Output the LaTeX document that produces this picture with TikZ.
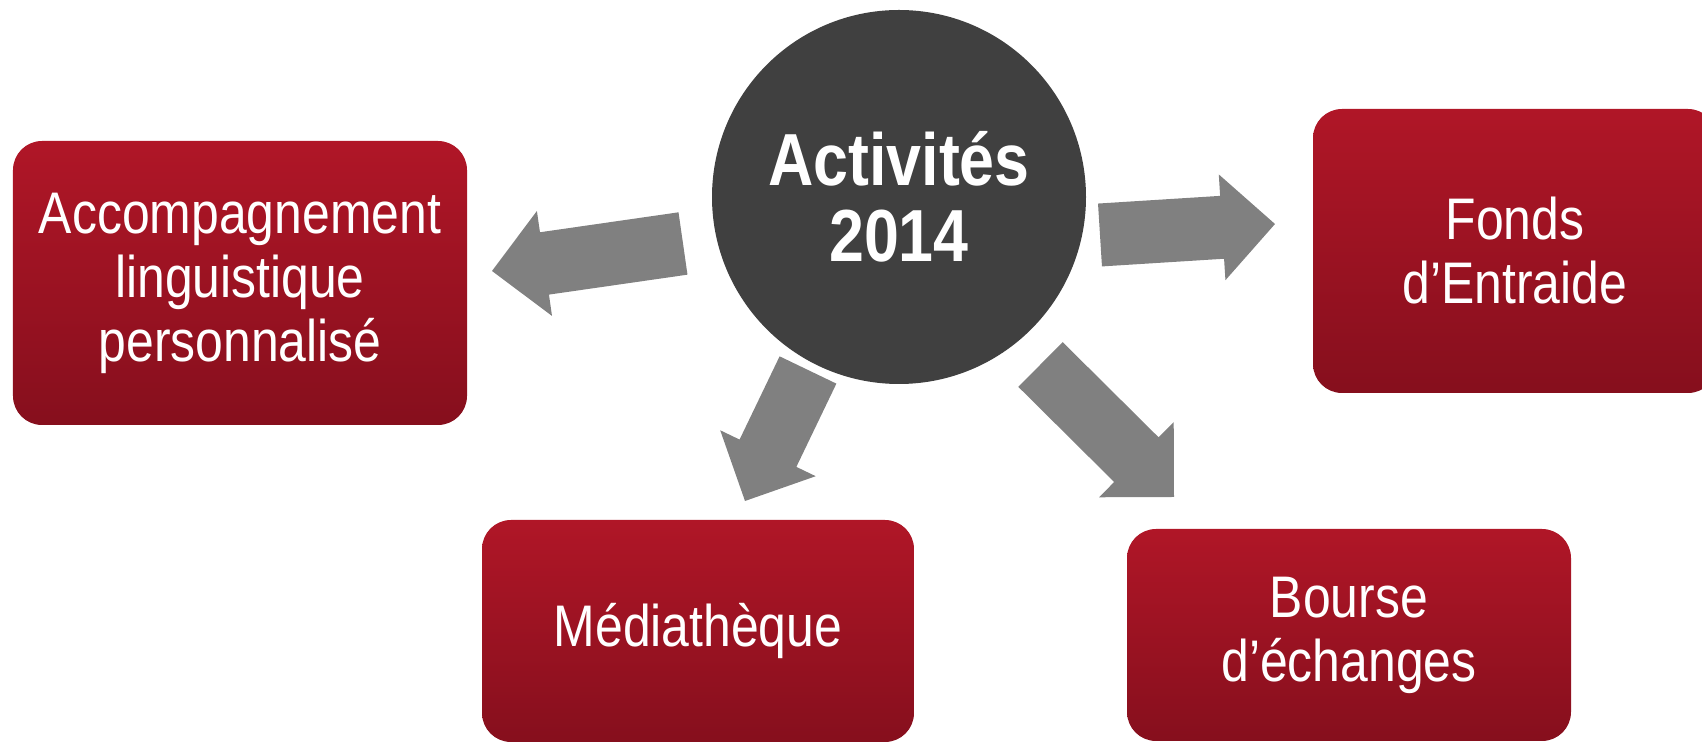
\documentclass[tikz,border=0pt]{standalone}
\usepackage{fontspec}
\setmainfont{Liberation Sans}[FakeStretch=0.85]
\usepackage{xcolor}
\usepackage{tikz}
\usetikzlibrary{calc,positioning}
\definecolor{boxtop}{HTML}{B01627}
\definecolor{boxbot}{HTML}{860F1D}
\definecolor{hubgray}{HTML}{404040}
\definecolor{arrowgray}{HTML}{808080}
% block arrow from #1 (tail) to #2 (tip)
\newcommand{\blockarrow}[2]{%
    \coordinate (j) at ($(#2)!0.53cm!(#1)$);
    \fill[bigarrow] ($(#1)!0.315cm!90:(#2)$) -- ($(j)!0.315cm!90:(#2)$) -- ($(j)!0.53cm!90:(#2)$)
        -- (#2) -- ($(j)!0.53cm!-90:(#2)$) -- ($(j)!0.315cm!-90:(#2)$) -- ($(#1)!0.315cm!-90:(#2)$) -- cycle;}

\begin{document}
\begin{tikzpicture}[
    actbox/.style={rounded corners=0.29cm, top color=boxtop, bottom color=boxbot, text=white, align=center, inner sep=0pt, font=\fontsize{16.7}{18.2}\selectfont},
    bigarrow/.style={fill=arrowgray}
]
    \useasboundingbox (0,0) rectangle (17.02,7.42);
    % centre
    \node[circle, fill=hubgray, minimum size=3.74cm, text=white, align=center, font=\fontsize{21}{21.6}\selectfont\bfseries] (act) at (8.99,5.45)
        {Activités\\2014};
    % activities
    \node[actbox, minimum width=4.54cm, minimum height=2.84cm] (accomp) at (2.40,4.59)
        {Accompagnement\\linguistique\\personnalisé};
    \node[actbox, minimum width=4.04cm, minimum height=2.84cm] (fonds) at (15.15,4.91)
        {Fonds\\d’Entraide};
    \node[actbox, minimum width=4.32cm, minimum height=2.22cm] (media) at (6.98,1.11)
        {Médiathèque};
    \node[actbox, minimum width=4.44cm, minimum height=2.12cm] (bourse) at (13.49,1.07)
        {Bourse\\d’échanges};
    % arrow ends
    \coordinate (a1) at (6.83,4.985);  \coordinate (b1) at (4.92,4.71);
    \coordinate (a2) at (11.00,5.07);  \coordinate (b2) at (12.75,5.18);
    \coordinate (a3) at (8.08,3.72);   \coordinate (b3) at (7.45,2.41);
    \coordinate (a4) at (10.405,3.775); \coordinate (b4) at (11.74,2.45);
    \blockarrow{a1}{b1}
    \blockarrow{a2}{b2}
    \blockarrow{a3}{b3}
    \blockarrow{a4}{b4}
\end{tikzpicture}
\end{document}
